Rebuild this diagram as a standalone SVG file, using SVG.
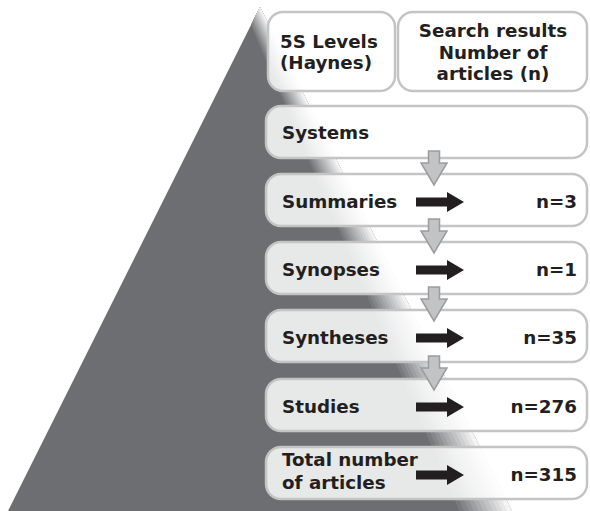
<svg xmlns="http://www.w3.org/2000/svg" xmlns:xlink="http://www.w3.org/1999/xlink" width="590" height="511" viewBox="0 0 590 511">
<style>
.box{fill:#ffffff;fill-opacity:0.84;stroke:#c4c4c4;stroke-width:2.5}
.t{font-family:"DejaVu Sans",Verdana,sans-serif;font-weight:bold;font-size:18.3px;fill:#231f20}
.c{text-anchor:middle}
.r{text-anchor:end}
.down{fill:#c2c3c5;stroke:#9c9c9e;stroke-width:1.5;stroke-linejoin:miter}
.right{fill:#231f20}
</style>
<defs>
<clipPath id="tri"><polygon points="260,7 7,513 513,513"/></clipPath>
<path id="darrow" d="M-5.5,0 V12 H-13 L0,34 L13,12 H5.5 V0 Z"/>
<path id="rarrow" d="M0,-4.5 H31 V-10 L48,0 L31,10 V4.5 H0 Z"/>
</defs>
<rect width="590" height="511" fill="#ffffff"/>
<g id="pyramid" clip-path="url(#tri)">
<rect x="0" y="0" width="590" height="511" fill="#6d6e71"/>
<polygon points="140.5,-232 459.4,511 700,511 700,-232" fill="#797a7d"/>
<polygon points="140.5,-232 464.2,511 700,511 700,-232" fill="#858689"/>
<polygon points="140.5,-232 469.0,511 700,511 700,-232" fill="#919295"/>
<polygon points="140.5,-232 473.8,511 700,511 700,-232" fill="#9e9fa1"/>
<polygon points="140.5,-232 478.5,511 700,511 700,-232" fill="#aaabad"/>
<polygon points="140.5,-232 483.3,511 700,511 700,-232" fill="#b6b7b8"/>
<polygon points="140.5,-232 488.1,511 700,511 700,-232" fill="#c2c3c4"/>
<polygon points="140.5,-232 492.9,511 700,511 700,-232" fill="#cecfd0"/>
<polygon points="140.5,-232 497.7,511 700,511 700,-232" fill="#dbdbdc"/>
<polygon points="140.5,-232 502.4,511 700,511 700,-232" fill="#e7e7e8"/>
<polygon points="140.5,-232 507.2,511 700,511 700,-232" fill="#f3f3f3"/>
</g>
<g id="header-levels">
<rect class="box" x="268" y="12" width="127" height="79" rx="15"/>
<text class="t" x="280" y="47.5">5S Levels</text>
<text class="t" x="280" y="69">(Haynes)</text>
</g>
<g id="header-results">
<rect class="box" x="398" y="12" width="189" height="79" rx="15"/>
<text class="t c" x="493" y="36.5">Search results</text>
<text class="t c" x="493" y="58.5">Number of</text>
<text class="t c" x="493" y="80">articles (n)</text>
</g>
<g id="systems">
<rect class="box" x="266" y="106" width="321" height="52" rx="15"/>
<text class="t" x="282" y="139">Systems</text>
</g>
<g id="summaries">
<rect class="box" x="266" y="174" width="321" height="52" rx="15"/>
<text class="t" x="282" y="208">Summaries</text>
<text class="t r" x="577" y="208">n=3</text>
</g>
<g id="synopses">
<rect class="box" x="266" y="242" width="321" height="52" rx="15"/>
<text class="t" x="282" y="276">Synopses</text>
<text class="t r" x="577" y="276">n=1</text>
</g>
<g id="syntheses">
<rect class="box" x="266" y="310" width="321" height="52" rx="15"/>
<text class="t" x="282" y="344">Syntheses</text>
<text class="t r" x="577" y="344">n=35</text>
</g>
<g id="studies">
<rect class="box" x="266" y="379" width="321" height="52" rx="15"/>
<text class="t" x="282" y="413">Studies</text>
<text class="t r" x="577" y="413">n=276</text>
</g>
<g id="total">
<rect class="box" x="266" y="447" width="321" height="52" rx="15"/>
<text class="t" x="282" y="465.5">Total number</text>
<text class="t" x="282" y="489">of articles</text>
<text class="t r" x="577" y="481">n=315</text>
</g>
<g id="connectors">
<use xlink:href="#darrow" href="#darrow" class="down" x="434" y="151"/>
<use xlink:href="#darrow" href="#darrow" class="down" x="434" y="219"/>
<use xlink:href="#darrow" href="#darrow" class="down" x="434" y="287"/>
<use xlink:href="#darrow" href="#darrow" class="down" x="434" y="356"/>
<use xlink:href="#rarrow" href="#rarrow" class="right" x="416" y="202"/>
<use xlink:href="#rarrow" href="#rarrow" class="right" x="416" y="270"/>
<use xlink:href="#rarrow" href="#rarrow" class="right" x="416" y="338"/>
<use xlink:href="#rarrow" href="#rarrow" class="right" x="416" y="407"/>
<use xlink:href="#rarrow" href="#rarrow" class="right" x="416" y="475"/>
</g>
</svg>
